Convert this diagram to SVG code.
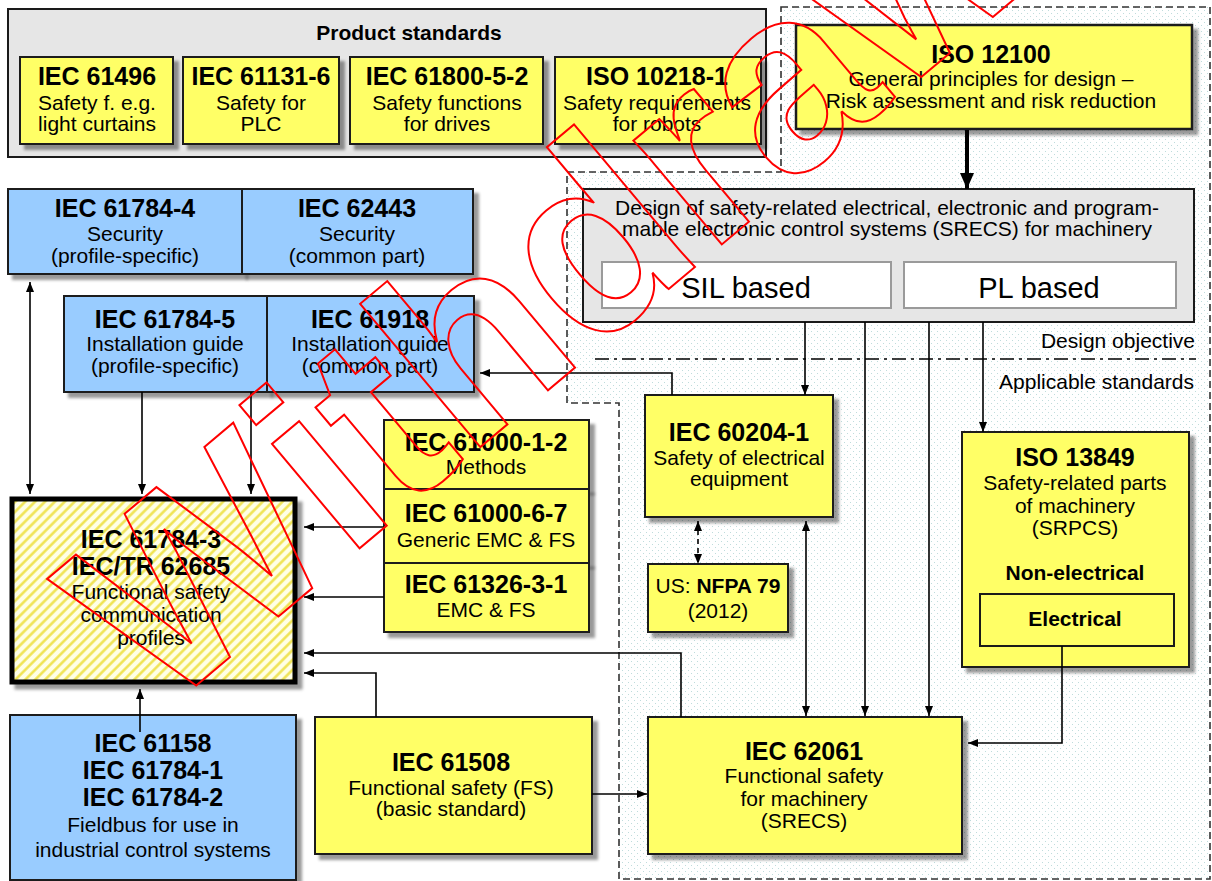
<svg xmlns="http://www.w3.org/2000/svg" width="1212" height="881" viewBox="0 0 1212 881">
<defs>
<style>
text{font-family:"Liberation Sans",Arial,sans-serif;fill:#000}
.t{font-size:25px;font-weight:bold;text-anchor:middle}
.s{font-size:21px;text-anchor:middle}
.b{font-size:21px;font-weight:bold;text-anchor:middle}
.y{fill:#FFFF66;stroke:#1a1a1a;stroke-width:2}
.bl{fill:#99CCFF;stroke:#1a1a1a;stroke-width:2}
.g{fill:#E6E6E6;stroke:#1a1a1a;stroke-width:2}
.c{fill:none;stroke:#000;stroke-width:1.6}
.sh{filter:url(#shadow)}
</style>
<filter id="shadow" x="-10%" y="-10%" width="130%" height="130%">
<feDropShadow dx="5" dy="5" stdDeviation="1.5" flood-color="#000" flood-opacity="0.4"/>
</filter>
<pattern id="dots" width="6" height="6" patternUnits="userSpaceOnUse">
<rect width="6" height="6" fill="#fff"/>
<rect x="1" y="1" width="1" height="1" fill="#bfdcdc"/>
<rect x="4" y="4" width="1" height="1" fill="#bfdcdc"/>
</pattern>
<pattern id="hatch" width="7" height="7" patternUnits="userSpaceOnUse" patternTransform="rotate(45)">
<rect width="7" height="7" fill="#FFFFE6"/>
<line x1="1.5" y1="0" x2="1.5" y2="7" stroke="#EFE24A" stroke-width="2.4"/>
</pattern>
<marker id="ah" viewBox="0 0 10 8" refX="10" refY="4" markerWidth="10" markerHeight="8" markerUnits="userSpaceOnUse" orient="auto-start-reverse">
<path d="M0,0 L10,4 L0,8 z" fill="#000"/>
</marker>
<marker id="ahb" viewBox="0 0 16 14" refX="16" refY="7" markerWidth="16" markerHeight="14" markerUnits="userSpaceOnUse" orient="auto">
<path d="M0,0 L16,7 L0,14 z" fill="#000"/>
</marker>
</defs>
<rect width="1212" height="881" fill="#fff"/>

<g id="region">
<polygon points="781,7 1210,7 1210,879 619,879 619,403 567,403 567,172 781,172" fill="url(#dots)" stroke="#333" stroke-width="1.6" stroke-dasharray="7 4"/>
<line x1="595" y1="359" x2="1196" y2="359" stroke="#000" stroke-width="1.6" stroke-dasharray="14 5 3 5"/>
<text x="1195" y="348" style="font-size:21px;text-anchor:end">Design objective</text>
<text x="1194" y="389" style="font-size:21px;text-anchor:end">Applicable standards</text>
</g>

<g id="product-standards">
<rect x="8" y="9" width="758" height="148" class="g"/>
<text x="409" y="40" class="b">Product standards</text>
</g>
<g id="iec61496">
<rect x="20" y="57" width="153" height="87" class="y sh"/>
<text x="97" y="85" class="t">IEC 61496</text>
<text x="97" y="110" class="s">Safety f. e.g.</text>
<text x="97" y="131" class="s">light  curtains</text>
</g>
<g id="iec61131">
<rect x="183" y="57" width="156" height="87" class="y sh"/>
<text x="261" y="85" class="t">IEC 61131-6</text>
<text x="261" y="110" class="s">Safety for</text>
<text x="261" y="131" class="s">PLC</text>
</g>
<g id="iec61800">
<rect x="350" y="57" width="193" height="87" class="y sh"/>
<text x="447" y="85" class="t">IEC 61800-5-2</text>
<text x="447" y="110" class="s">Safety functions</text>
<text x="447" y="131" class="s">for drives</text>
</g>
<g id="iso10218">
<rect x="555" y="57" width="206" height="87" class="y sh"/>
<text x="657" y="85" class="t">ISO 10218-1</text>
<text x="657" y="110" class="s">Safety requirements</text>
<text x="657" y="131" class="s">for robots</text>
</g>

<g id="iso12100">
<rect x="796" y="25" width="396" height="104" class="y sh" style="stroke-width:2.5"/>
<text x="991" y="63" class="t">ISO 12100</text>
<text x="991" y="86" class="s">General principles for design –</text>
<text x="991" y="108" class="s">Risk assessment and risk reduction</text>
</g>

<g id="design">
<rect x="583" y="189" width="611" height="133" class="g"/>
<text x="887" y="215" class="s">Design of safety-related electrical, electronic and program-</text>
<text x="887" y="236" class="s">mable  electronic control systems (SRECS) for machinery</text>
<rect x="602" y="262" width="289" height="46" fill="#fff" stroke="#9a9a9a" stroke-width="2"/>
<text x="746" y="298" style="font-size:29px;text-anchor:middle">SIL based</text>
<rect x="904" y="262" width="272" height="46" fill="#fff" stroke="#9a9a9a" stroke-width="2"/>
<text x="1039" y="298" style="font-size:29px;text-anchor:middle">PL based</text>
</g>

<g id="iec61784-4">
<rect x="8" y="189" width="234" height="85" class="bl sh"/>
<text x="125" y="217" class="t">IEC 61784-4</text>
<text x="125" y="241" class="s">Security</text>
<text x="125" y="263" class="s">(profile-specific)</text>
</g>
<g id="iec62443">
<rect x="242" y="189" width="231" height="85" class="bl sh"/>
<text x="357" y="217" class="t">IEC 62443</text>
<text x="357" y="241" class="s">Security</text>
<text x="357" y="263" class="s">(common part)</text>
</g>
<g id="iec61784-5">
<rect x="64" y="296" width="203" height="96" class="bl sh"/>
<text x="165" y="328" class="t">IEC 61784-5</text>
<text x="165" y="351" class="s">Installation guide</text>
<text x="165" y="373" class="s">(profile-specific)</text>
</g>
<g id="iec61918">
<rect x="267" y="296" width="207" height="96" class="bl sh"/>
<text x="370" y="328" class="t">IEC 61918</text>
<text x="370" y="351" class="s">Installation guide</text>
<text x="370" y="373" class="s">(common part)</text>
</g>

<g id="emc">
<rect x="384" y="420" width="205" height="69" class="y sh"/>
<rect x="384" y="489" width="205" height="74" class="y sh"/>
<rect x="384" y="563" width="205" height="69" class="y sh"/>
<text x="486" y="451" class="t">IEC 61000-1-2</text>
<text x="486" y="474" class="s">Methods</text>
<text x="486" y="522" class="t">IEC 61000-6-7</text>
<text x="486" y="547" class="s">Generic EMC &amp; FS</text>
<text x="486" y="593" class="t">IEC 61326-3-1</text>
<text x="486" y="617" class="s">EMC &amp; FS</text>
</g>

<g id="iec61784-3">
<rect x="12" y="499" width="283" height="183" fill="url(#hatch)" stroke="#000" stroke-width="5" class="sh"/>
<text x="151" y="548" class="t">IEC 61784-3</text>
<text x="151" y="575" class="t">IEC/TR 62685</text>
<text x="151" y="599" class="s">Functional safety</text>
<text x="151" y="622" class="s">communication</text>
<text x="151" y="645" class="s">profiles</text>
</g>

<g id="fieldbus">
<rect x="10" y="715" width="286" height="165" class="bl sh"/>
<text x="153" y="752" class="t">IEC 61158</text>
<text x="153" y="779" class="t">IEC 61784-1</text>
<text x="153" y="806" class="t">IEC 61784-2</text>
<text x="153" y="832" class="s">Fieldbus for use in</text>
<text x="153" y="857" class="s">industrial control systems</text>
</g>

<g id="iec61508">
<rect x="315" y="717" width="277" height="137" class="y sh"/>
<text x="451" y="771" class="t">IEC 61508</text>
<text x="451" y="795" class="s">Functional safety (FS)</text>
<text x="451" y="816" class="s">(basic standard)</text>
</g>

<g id="iec60204">
<rect x="645" y="395" width="188" height="122" class="y sh"/>
<text x="739" y="441" class="t">IEC 60204-1</text>
<text x="739" y="465" class="s">Safety of electrical</text>
<text x="739" y="486" class="s">equipment</text>
</g>
<g id="nfpa79">
<rect x="648" y="564" width="140" height="68" class="y sh"/>
<text x="718" y="593" class="s">US: <tspan font-weight="bold">NFPA 79</tspan></text>
<text x="718" y="618" class="s">(2012)</text>
</g>

<g id="iso13849">
<rect x="962" y="432" width="227" height="235" class="y sh"/>
<text x="1075" y="466" class="t">ISO 13849</text>
<text x="1075" y="490" class="s">Safety-related parts</text>
<text x="1075" y="513" class="s">of machinery</text>
<text x="1075" y="535" class="s">(SRPCS)</text>
<text x="1075" y="580" class="b">Non-electrical</text>
<rect x="980" y="594" width="194" height="52" class="y"/>
<text x="1075" y="626" class="b">Electrical</text>
</g>

<g id="iec62061">
<rect x="648" y="717" width="314" height="137" class="y sh"/>
<text x="804" y="760" class="t">IEC 62061</text>
<text x="804" y="783" class="s">Functional safety</text>
<text x="804" y="806" class="s">for machinery</text>
<text x="804" y="828" class="s">(SRECS)</text>
</g>

<g id="connectors">
<path d="M967,130 V189" fill="none" stroke="#000" stroke-width="4" marker-end="url(#ahb)"/>
<path d="M805,322 V395" class="c" marker-end="url(#ah)"/>
<path d="M865,322 V716" class="c" marker-end="url(#ah)"/>
<path d="M929,322 V716" class="c" marker-end="url(#ah)"/>
<path d="M983,322 V432" class="c" marker-end="url(#ah)"/>
<path d="M806,521 V716" class="c" marker-start="url(#ah)" marker-end="url(#ah)"/>
<path d="M698,521 V564" class="c" stroke-dasharray="5 4" marker-start="url(#ah)" marker-end="url(#ah)"/>
<path d="M672,395 V373 H480" class="c" marker-end="url(#ah)"/>
<path d="M1062,646 V743 H968" class="c" marker-end="url(#ah)"/>
<path d="M681,717 V653 H304" class="c" marker-end="url(#ah)"/>
<path d="M376,717 V673 H304" class="c" marker-end="url(#ah)"/>
<path d="M592,794 H647" class="c" marker-end="url(#ah)"/>
<path d="M140,732 V689" class="c" marker-end="url(#ah)"/>
<path d="M384,527 H304" class="c" marker-end="url(#ah)"/>
<path d="M384,597 H304" class="c" marker-end="url(#ah)"/>
<path d="M30,282 V494" class="c" marker-start="url(#ah)" marker-end="url(#ah)"/>
<path d="M142,392 V494" class="c" marker-end="url(#ah)"/>
<path d="M251,392 V494" class="c" marker-end="url(#ah)"/>
</g>

<g id="watermark">
<text transform="translate(161,715) rotate(-40)" style="font-size:258px;font-weight:bold;fill:none;stroke:#ff0000;stroke-width:2">Withdrawn</text>
</g>
</svg>
